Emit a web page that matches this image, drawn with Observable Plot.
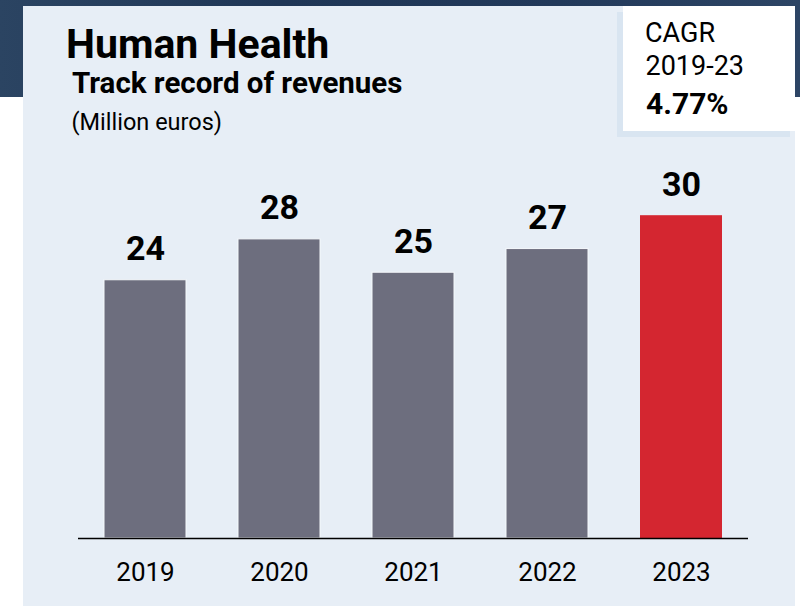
<!DOCTYPE html>
<html>
<head>
<meta charset="utf-8">
<script src="https://cdn.jsdelivr.net/npm/d3@7"></script>
<script src="https://cdn.jsdelivr.net/npm/@observablehq/plot@0.6"></script>
<style>
  html, body { margin: 0; padding: 0; }
  body { width: 800px; height: 606px; position: relative; overflow: hidden; background: #ffffff; font-family: Roboto, "Noto Sans", sans-serif; color: #000; }
  .abs { position: absolute; white-space: nowrap; line-height: 1; }
  #navy { left: 0; top: 0; width: 800px; height: 97px; background: linear-gradient(90deg, #2b4462 0%, #1f3656 35%, #22395a 70%, #2d4565 100%); }
  #panel { left: 23px; top: 6px; width: 772px; height: 600px; background: #e7eef6; }
  #shadow { left: 617px; top: 12px; width: 173px; height: 125px; background: #d9e5f1; }
  #box { left: 623px; top: 6px; width: 172px; height: 125px; background: #ffffff; }
  #chart { left: 0; top: 0; }
</style>
</head>
<body>
<div id="navy" class="abs"></div>
<div id="panel" class="abs"></div>
<div id="shadow" class="abs"></div>
<div id="box" class="abs"></div>
<div class="abs" style="left:66px; top:23.5px; font-size:41px; font-weight:700;">Human Health</div>
<div class="abs" style="left:72px; top:68.6px; font-size:29.5px; font-weight:700;">Track record of revenues</div>
<div class="abs" style="left:71.5px; top:111.2px; font-size:23.5px; font-weight:400;">(Million euros)</div>
<div class="abs" style="left:645px; top:19.6px; font-size:27px; font-weight:400;">CAGR</div>
<div class="abs" style="left:645.5px; top:53.3px; font-size:27px; font-weight:400;">2019-23</div>
<div class="abs" style="left:646px; top:89px; font-size:30px; font-weight:700;">4.77%</div>
<div id="chart" class="abs"></div>
<script>
const years = ["2019", "2020", "2021", "2022", "2023"];
const revenues = [24.0, 27.8, 24.7, 26.9, 30.0];
const highlightYear = "2023";
const grayColor = "#6d6e7e";
const redColor = "#d42630";

const data = years.map((year, i) => ({year, value: revenues[i]}));
const fmt = d3.format(".0f");

const chart = Plot.plot({
  width: 800,
  height: 606,
  marginLeft: 78,
  marginRight: 52,
  marginTop: 0,
  marginBottom: 68,
  style: {background: "none", fontFamily: "Roboto, sans-serif", color: "#000", overflow: "visible"},
  x: {type: "band", domain: years, paddingInner: 0.39, paddingOuter: 0.195, label: null},
  y: {domain: [0, 50], axis: null},
  marks: [
    Plot.barY(data, {
      x: "year",
      y: "value",
      fill: d => d.year === highlightYear ? redColor : grayColor,
      stroke: d => d.year === highlightYear ? "none" : "#f6f9fc",
      strokeWidth: 1
    }),
    Plot.ruleY([0], {stroke: "#000", strokeWidth: 1.5}),
    Plot.text(data, {
      x: "year",
      y: "value",
      text: d => fmt(d.value),
      lineAnchor: "bottom",
      dy: -20,
      fontSize: 34,
      fontWeight: 700,
      fill: "#000"
    }),
    Plot.axisX({tickSize: 0, tickPadding: 24.5, fontSize: 26, label: null, fill: "#000"})
  ]
});
document.getElementById("chart").appendChild(chart);
</script>
</body>
</html>
